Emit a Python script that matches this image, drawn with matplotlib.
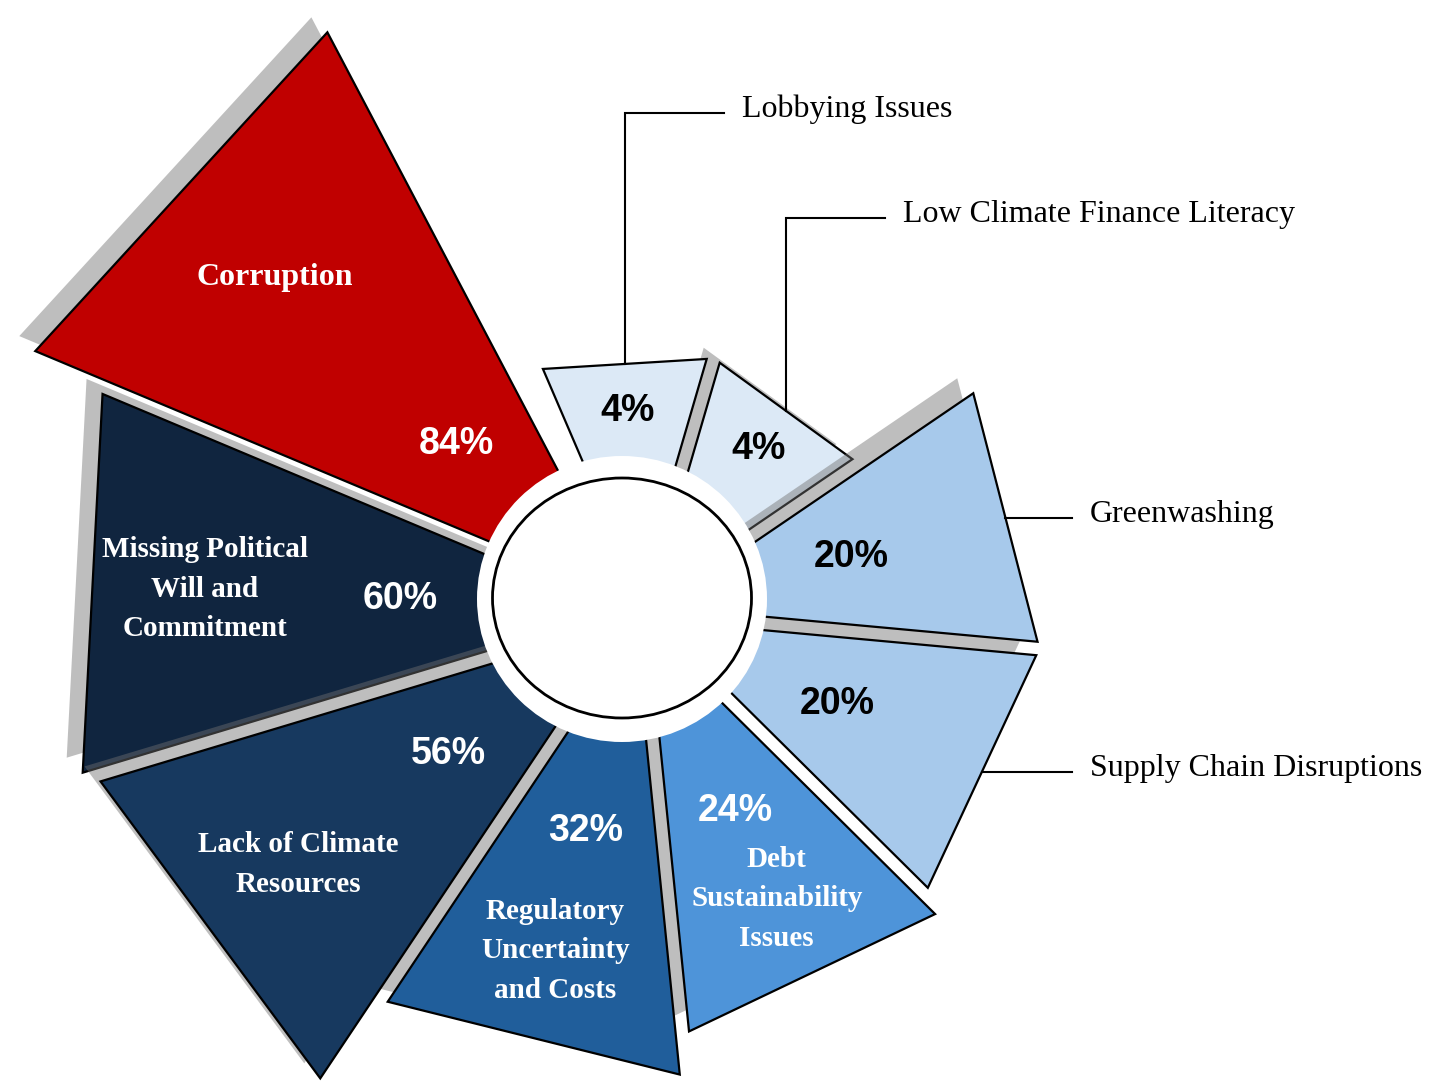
import numpy as np
import matplotlib.pyplot as plt
from matplotlib.patches import Polygon, Ellipse

# survey shares, listed clockwise from the top
categories = [
    "Lobbying Issues",
    "Low Climate Finance Literacy",
    "Greenwashing",
    "Supply Chain Disruptions",
    "Debt\nSustainability\nIssues",
    "Regulatory\nUncertainty\nand Costs",
    "Lack of Climate\nResources",
    "Missing Political\nWill and\nCommitment",
    "Corruption",
]
shares = [4, 4, 20, 20, 24, 32, 56, 60, 84]
outside = [True, True, True, True, False, False, False, False, False]

fills = ["#DCE9F6", "#DCE9F6", "#A7C9EB", "#A7C9EB", "#4E94D9",
         "#205E9B", "#17395F", "#10253F", "#C00000"]
pct_colors = ["black", "black", "black", "black", "white",
              "white", "white", "white", "white"]
has_shadow = [False, True, True, True, True, True, True, True, True]
# stacking order of the wedges (indices into the lists above)
draw_order = [4, 3, 5, 1, 2, 0, 7, 6, 8]
# elbow height of the leader for labels placed above the chart
leader_elbow = [113, 218, None, None]
right_column = 1072

W, H = 1432, 1089
cx, cy = 640, 612          # common point the wedges fan out from
hole_x, hole_y = 622, 598  # white hub
start, step = 93.5, 39.5
explode = 20
shadow_dx, shadow_dy = -16, -15

serif = "Liberation Serif"
sans = "Liberation Sans"


def radius(v):
    return 132 + 55.4 * np.sqrt(v)


def polar(r, ang, ox=cx, oy=cy):
    a = np.radians(ang)
    return ox + r * np.cos(a), oy - r * np.sin(a)


fig = plt.figure(figsize=(W / 100, H / 100), dpi=100)
ax = fig.add_axes([0, 0, 1, 1])
ax.set_xlim(0, W)
ax.set_ylim(H, 0)
ax.axis("off")

mids = [start - step * i for i in range(len(shares))]
tris = []
for i, v in enumerate(shares):
    mid = mids[i]
    ax0, ay0 = polar(explode, mid)
    R = radius(v)
    p1 = polar(R, mid + step / 2, ax0, ay0)
    p2 = polar(R, mid - step / 2, ax0, ay0)
    tris.append(np.array([[ax0, ay0], p1, p2]))

z = 1
for i in draw_order:
    pts = tris[i]
    if has_shadow[i]:
        ax.add_patch(Polygon(pts + [shadow_dx, shadow_dy], closed=True,
                             facecolor="#707070", alpha=0.45,
                             edgecolor="none", zorder=z))
    ax.add_patch(Polygon(pts, closed=True, facecolor=fills[i],
                         edgecolor="black", linewidth=1.6,
                         joinstyle="miter", zorder=z + 0.5))
    z += 1

# hollow centre
ax.add_patch(Ellipse((hole_x, hole_y + 1), 290, 286, facecolor="white",
                     edgecolor="none", zorder=50))
ax.add_patch(Ellipse((hole_x, hole_y), 259, 240, facecolor="white",
                     edgecolor="black", linewidth=2.0, zorder=51))

for i, v in enumerate(shares):
    mid = mids[i]
    reach = radius(v) + explode
    px, py = polar(170 + 0.12 * reach, mid)
    ax.text(px, py, f"{v}%", ha="center", va="center", fontsize=27,
            fontweight="bold", family=sans, color=pct_colors[i], zorder=60)

    if not outside[i]:
        size = 23 if v == max(shares) else 21
        lx, ly = polar(0.75 * reach, mid)
        ax.text(lx, ly, categories[i], ha="center", va="center",
                multialignment="center", fontsize=size, fontweight="bold",
                family=serif, color="white", linespacing=1.6, zorder=60)
        continue

    # leader line from the middle of the outer edge
    mx, my = (tris[i][1] + tris[i][2]) / 2
    elbow = leader_elbow[i]
    if elbow is not None:
        xs, ys = [mx, mx, mx + 99], [my, elbow, elbow]
    else:
        xs, ys = [mx, right_column], [my, my]
    ax.plot(xs, ys, color="black", linewidth=1.5, zorder=40,
            solid_joinstyle="miter")
    ax.text(xs[-1] + 18, ys[-1] + 4, categories[i], ha="left",
            va="baseline", fontsize=23, family=serif, color="black",
            zorder=60)

fig.savefig("out.png", dpi=100)
